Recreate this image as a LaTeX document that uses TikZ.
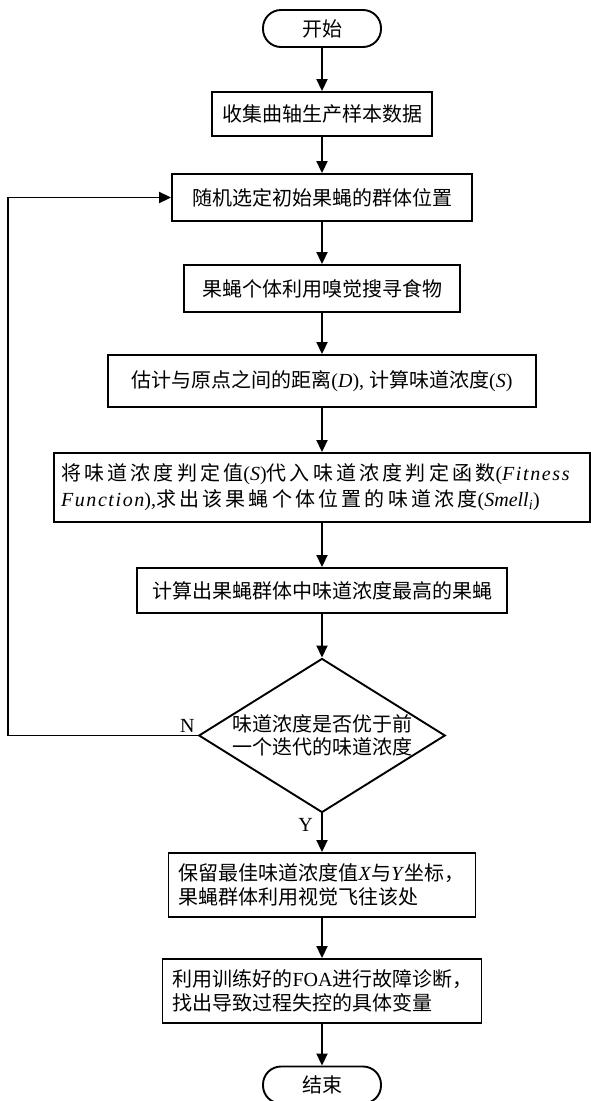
\documentclass[tikz,border=0pt]{standalone}
\usepackage{fontspec}
\setmainfont{Liberation Serif}
\newfontfamily\cjk{Noto Sans CJK SC}
\newfontfamily\cjkwide[LetterSpace=16]{Noto Sans CJK SC}
\newfontfamily\latwide[LetterSpace=8]{Liberation Serif}
\newcommand{\latn}[1]{{\rmfamily #1}}
\usetikzlibrary{arrows.meta, positioning, shapes.geometric}

\begin{document}
\begin{tikzpicture}[
    x=1pt, y=-1pt,
    font=\cjk\fontsize{20}{24}\selectfont,
    term/.style={draw, line width=1.9pt, rounded corners=18pt, minimum width=118pt, minimum height=37pt, inner sep=0pt},
    proc/.style={draw, line width=1.9pt, minimum height=45pt, inner sep=0pt},
    twoline/.style={proc, align=left, inner xsep=10pt, minimum height=64pt},
    dec/.style={draw, line width=1.9pt, diamond, aspect=1.6, inner sep=0pt, minimum width=246pt, minimum height=153pt, align=center, font=\cjk\fontsize{20}{23}\selectfont},
    lab/.style={font=\rmfamily\fontsize{20}{24}\selectfont, inner sep=0pt},
    ar/.style={-{Triangle[length=12pt, width=11pt]}, line width=1.9pt}
  ]
    \useasboundingbox (0,0) rectangle (591,1101);
    % main column
    \node[term] (start) at (322,28.5) {开始};
    \node[proc, minimum width=220pt, minimum height=44pt] (collect) at (322,114) {收集曲轴生产样本数据};
    \node[proc, minimum width=300pt, minimum height=47pt] (init) at (322,197.5) {随机选定初始果蝇的群体位置};
    \node[proc, minimum width=276pt, minimum height=47pt] (search) at (322,288.5) {果蝇个体利用嗅觉搜寻食物};
    \node[proc, minimum width=428pt, minimum height=52pt] (dist) at (322,381) {估计与原点之间的距离\latn{(\textit{D}), }计算味道浓度\latn{(\textit{S})}};
    \node[twoline, text width=522pt, inner xsep=7pt, minimum height=69pt, font=\cjkwide\fontsize{20}{26}\selectfont] (fit) at (322,487.5)
      {将味道浓度判定值\latn{(\textit{S})}代入味道浓度判定函数\latn{(}{\latwide\itshape Fitness}\\
       {\latwide\itshape Function}\latn{),}求出该果蝇个体位置的味道浓度\latn{(\textit{Smell}\textsubscript{\textit{i}})}};
    \node[proc, minimum width=370pt, minimum height=45pt] (best) at (322,590.5) {计算出果蝇群体中味道浓度最高的果蝇};
    \node[dec] (cmp) at (322,735.5) {味道浓度是否优于前\\一个迭代的味道浓度};
    \node[twoline, text width=287pt] (keep) at (322,885) {保留最佳味道浓度值\latn{\textit{X}}与\latn{\textit{Y}}坐标，\\果蝇群体利用视觉飞往该处};
    \node[twoline, text width=299pt] (diag) at (322,991) {利用训练好的\latn{FOA}进行故障诊断，\\找出导致过程失控的具体变量};
    \node[term] (stop) at (322,1085) {结束};
    % connectors
    \foreach \a/\b in {start/collect, collect/init, init/search, search/dist, dist/fit, fit/best, best/cmp, cmp/keep, keep/diag, diag/stop}
      \draw[ar] (\a) -- (\b);
    \coordinate (back) at (8,0);
    \draw[ar] (cmp.west) -- (cmp.west -| back) |- (init.west);
    % branch labels
    \node[lab, anchor=south east] (no) at ([xshift=-3pt, yshift=2.5pt]cmp.west) {N};
    \node[lab, anchor=north east] (yes) at ([xshift=-9pt, yshift=-5pt]cmp.south) {Y};
  \end{tikzpicture}
\end{document}
